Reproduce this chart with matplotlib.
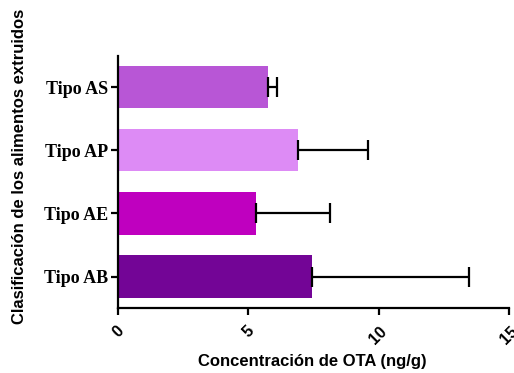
import matplotlib
matplotlib.use("Agg")
import matplotlib.pyplot as plt
import numpy as np

categories = ["Tipo AB", "Tipo AE", "Tipo AP", "Tipo AS"]
means = [7.45, 5.28, 6.89, 5.75]
sds = [6.01, 2.87, 2.71, 0.36]
colors = ["#730596", "#BF00BF", "#DD8BF5", "#B856D6"]
xticks = [0, 5, 10, 15]

fig = plt.figure(figsize=(5.14, 3.73), dpi=100)
ax = fig.add_axes([0.2296, 0.174, 0.7604, 0.677])

pos = np.arange(len(categories))
ax.barh(pos, means, height=0.67, color=colors, edgecolor="none", zorder=2)
ax.errorbar(means, pos, xerr=[np.zeros(len(sds)), sds], fmt="none",
            ecolor="black", elinewidth=1.6, capsize=7.4, capthick=1.6, zorder=3)

ax.set_xlim(0, 15)
ax.set_ylim(-0.5, 3.5)
ax.set_xticks(xticks)
ax.set_xticklabels([str(t) for t in xticks], rotation=45, ha="center", va="top",
                   fontsize=11.5, fontweight="bold", family="Liberation Sans")
ax.set_yticks(pos)
ax.set_yticklabels(categories, fontsize=13, fontweight="bold", family="Liberation Serif")

for s in ["top", "right"]:
    ax.spines[s].set_visible(False)
for s in ["left", "bottom"]:
    ax.spines[s].set_linewidth(1.6)
ax.tick_params(axis="both", width=1.6, length=5, color="black")
ax.tick_params(axis="x", pad=6)
ax.tick_params(axis="y", pad=2)

fig.text(0.607, 0.032, "Concentración de OTA (ng/g)", ha="center", va="center",
         fontsize=12, fontweight="bold", family="Liberation Sans")
fig.text(0.037, 0.555, "Clasificación de los alimentos extruidos", rotation=90,
         ha="center", va="center", fontsize=12, fontweight="bold", family="Liberation Sans")

fig.savefig("out.png", dpi=100)
